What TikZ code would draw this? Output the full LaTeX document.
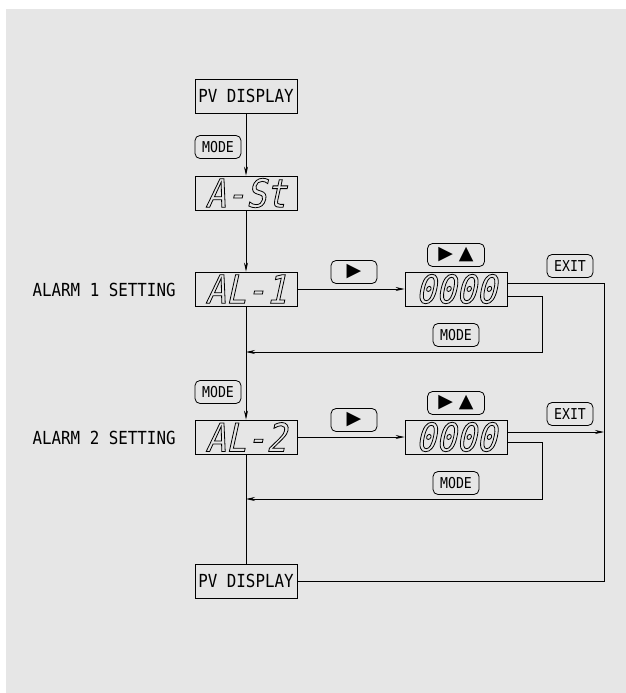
\documentclass[tikz,border=0pt]{standalone}
\usepackage{fontspec}
\usetikzlibrary{arrows.meta}
\newfontfamily\cadfont{DejaVu Sans Mono}[FakeStretch=0.88]
\newfontfamily\segfont{DejaVu Sans Mono}[FakeSlant=0.22,FakeStretch=0.86]
\newfontfamily\keyfont{DejaVu Sans}
\definecolor{panel}{HTML}{E6E6E6}
\newcommand\hollow[1]{\special{pdf:literal direct 1 Tr 0.8 w}#1\special{pdf:literal direct 0 Tr}}
\begin{document}
\begin{tikzpicture}
[x=1pt,y=-1pt,line width=0.8pt,
every node/.style={inner sep=0pt,font=\cadfont\fontsize{18}{18}\selectfont},
box/.style={draw,minimum width=102pt,minimum height=34pt},
seg/.style={box,font=\segfont\fontsize{39}{39}\selectfont},
key/.style={draw,rounded corners=5pt,minimum width=46pt,minimum height=23pt,
  font=\cadfont\fontsize{15}{15}\selectfont},
sym/.style={key,font=\keyfont\fontsize{19}{19}\selectfont},
flow/.style={-{Stealth[length=9pt,width=4pt]}}]
\fill[white] (0,0) rectangle (626,693);
\fill[panel] (6,9) rectangle (626,693);
\useasboundingbox (0,0) rectangle (626,693);
% main column
\node[box] (pv1) at (246,96) {PV DISPLAY};
\node[key] (modeA) at (218,147) {MODE};
\node[seg] (ast) at (246,193) {\hollow{A-St}};
\node[seg] (al1) at (246,289) {\hollow{AL-1}};
\node[anchor=east] (lab1) at (176,290) {ALARM 1 SETTING};
\node[key] (modeB) at (218,392) {MODE};
\node[seg] (al2) at (246,437) {\hollow{AL-2}};
\node[anchor=east] (lab2) at (176,438) {ALARM 2 SETTING};
\node[box] (pv2) at (246,581) {PV DISPLAY};
% alarm 1 value
\node[sym] (rt1) at (354,272) {▶};
\node[seg] (val1) at (456,289) {\hollow{0000}};
\node[sym,minimum width=57pt] (ud1) at (456,255) {▶\hspace{6pt}▲};
\node[key] (exit1) at (570,266) {EXIT};
\node[key] (mode1) at (456,335) {MODE};
% alarm 2 value
\node[sym] (rt2) at (354,420) {▶};
\node[seg] (val2) at (456,437) {\hollow{0000}};
\node[sym,minimum width=57pt] (ud2) at (456,403) {▶\hspace{6pt}▲};
\node[key] (exit2) at (570,414) {EXIT};
\node[key] (mode2) at (456,483) {MODE};
\coordinate (r1) at (604,283);
\coordinate (r3) at (604,581);
\coordinate (m1) at (542,352);
\coordinate (m2) at (542,499);
\draw[flow] (pv1) -- (ast);
\draw[flow] (ast) -- (al1);
\draw[flow] (al1) -- (al2);
\draw (al2) -- (pv2);
\draw[flow] (al1) -- (val1);
\draw[flow] (al2) -- (val2);
\draw ([yshift=6pt]val1.east) -- (r1) -- (r3) -- (pv2.east);
\draw[flow] ([yshift=5pt]val2.east) -- ([yshift=5pt]val2.east -| r1);
\draw[flow] ([yshift=-7pt]val1.east) -| (m1) -- (m1 -| al1.south);
\draw[flow] ([yshift=-5pt]val2.east) -| (m2) -- (m2 -| al2.south);
\end{tikzpicture}
\end{document}
